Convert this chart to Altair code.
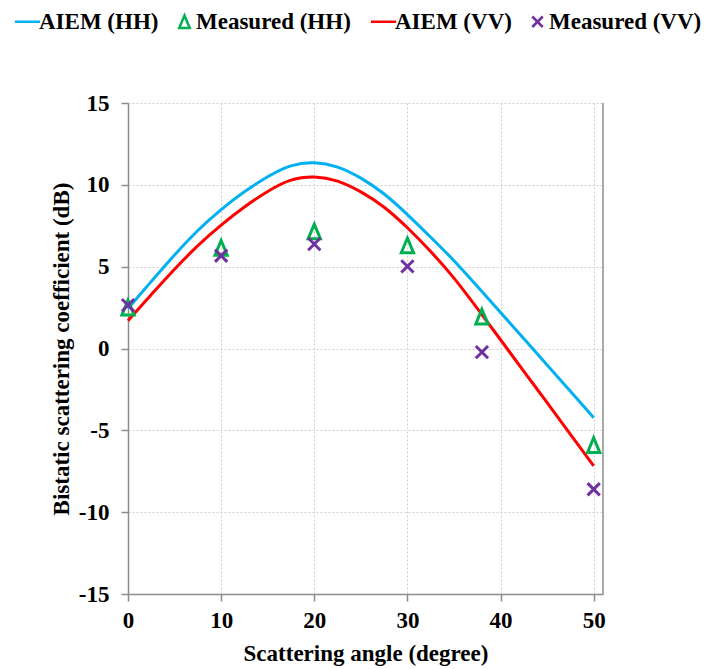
import altair as alt
import pandas as pd

# ---- data ----
curve_angle = [0, 2.5, 5, 7.5, 10, 12.5, 15, 17.5, 20, 22.5, 25, 27.5, 30,
               32.5, 35, 37.5, 40, 42.5, 45, 47.5, 50]
aiem_hh = [2.45, 4.1, 5.73, 7.25, 8.52, 9.6, 10.53, 11.25, 11.42, 11.15, 10.45,
           9.5, 8.2, 6.8, 5.4, 3.8, 2.2, 0.6, -1.0, -2.62, -4.23]
aiem_vv = [1.7, 3.3, 4.86, 6.32, 7.56, 8.67, 9.63, 10.38, 10.55, 10.3, 9.6,
           8.7, 7.4, 5.95, 4.35, 2.45, 0.54, -1.4, -3.3, -5.25, -7.17]

meas_angle = [0, 10, 20, 30, 38, 50]
meas_hh = [2.5, 6.15, 7.15, 6.3, 1.95, -5.9]
meas_vv = [2.65, 5.67, 6.38, 5.02, -0.22, -8.6]

series_names = ["AIEM (HH)", "Measured (HH)", "AIEM (VV)", "Measured (VV)"]
series_colors = ["#00B0F0", "#00B050", "#FF0000", "#7030A0"]
series_shapes = ["M-2.4,0L2.4,0", "M0,-1.2L1,1.2L-1,1.2Z",
                 "M-2.4,0L2.4,0", "M-1,-1L1,1M-1,1L1,-1"]

x_ticks = [0, 10, 20, 30, 40, 50]
y_ticks = [-15, -10, -5, 0, 5, 10, 15]

curves = pd.concat([
    pd.DataFrame({"angle": curve_angle, "value": aiem_hh, "series": "AIEM (HH)"}),
    pd.DataFrame({"angle": curve_angle, "value": aiem_vv, "series": "AIEM (VV)"}),
])
measured = pd.concat([
    pd.DataFrame({"angle": meas_angle, "value": meas_hh, "series": "Measured (HH)"}),
    pd.DataFrame({"angle": meas_angle, "value": meas_vv, "series": "Measured (VV)"}),
])

FONT = "Liberation Serif"
GRAY = "#8C8C8C"
W, H = 475, 491

x_enc = alt.X("angle:Q",
              scale=alt.Scale(domain=[0, 51], nice=False, zero=False),
              axis=alt.Axis(values=x_ticks, title="Scattering angle (degree)",
                            labelExpr="'' + datum.value", labelFlush=False,
                            labelPadding=8, titlePadding=10, tickSize=7))
y_enc = alt.Y("value:Q",
              scale=alt.Scale(domain=[-15, 15], nice=False, zero=False),
              axis=alt.Axis(values=y_ticks, title="Bistatic scattering coefficient (dB)",
                            labelExpr="'' + datum.value", labelFlush=False,
                            labelPadding=12, titlePadding=5, tickSize=7))

color_scale = alt.Scale(domain=series_names, range=series_colors)
shape_scale = alt.Scale(domain=series_names, range=series_shapes)

legend = alt.Legend(title=None, orient="none", legendX=-112, legendY=-93,
                    direction="horizontal", columns=4, columnPadding=14,
                    labelFont=FONT, labelFontSize=23, labelFontWeight="bold",
                    labelColor="black", labelOffset=0, symbolSize=110,
                    symbolStrokeWidth=2.5, symbolFillColor="transparent",
                    padding=0, values=series_names)

lines = alt.Chart(curves).mark_line(strokeWidth=3, interpolate="basis").encode(
    x=x_enc, y=y_enc,
    color=alt.Color("series:N", scale=color_scale, legend=legend),
    detail="series:N",
)

points = alt.Chart(measured).mark_point(filled=False, strokeWidth=3, size=150,
                                        opacity=1).encode(
    x=x_enc, y=y_enc,
    color=alt.Color("series:N", scale=color_scale, legend=legend),
    shape=alt.Shape("series:N", scale=shape_scale, legend=legend),
)

right_border = alt.Chart(pd.DataFrame({"k": [0]})).mark_rule(
    color=GRAY, strokeWidth=1.5).encode(
    x=alt.value(W), y=alt.value(0), y2=alt.value(H))

chart = alt.layer(lines, points, right_border).properties(
    width=W, height=H,
    padding={"left": 128, "top": 103, "right": 102, "bottom": 75},
    autosize="none",
).configure_view(stroke=None).configure_axis(
    labelFont=FONT, labelFontSize=23, labelFontWeight="bold", labelColor="black",
    titleFont=FONT, titleFontSize=23, titleFontWeight="bold", titleColor="black",
    domainColor=GRAY, domainWidth=1.5, tickColor=GRAY, tickWidth=1.5,
    gridColor="#D0D0D0", gridDash=[2, 2], gridWidth=1,
)

chart.save("out.html", embed_options={"renderer": "svg", "actions": False})
